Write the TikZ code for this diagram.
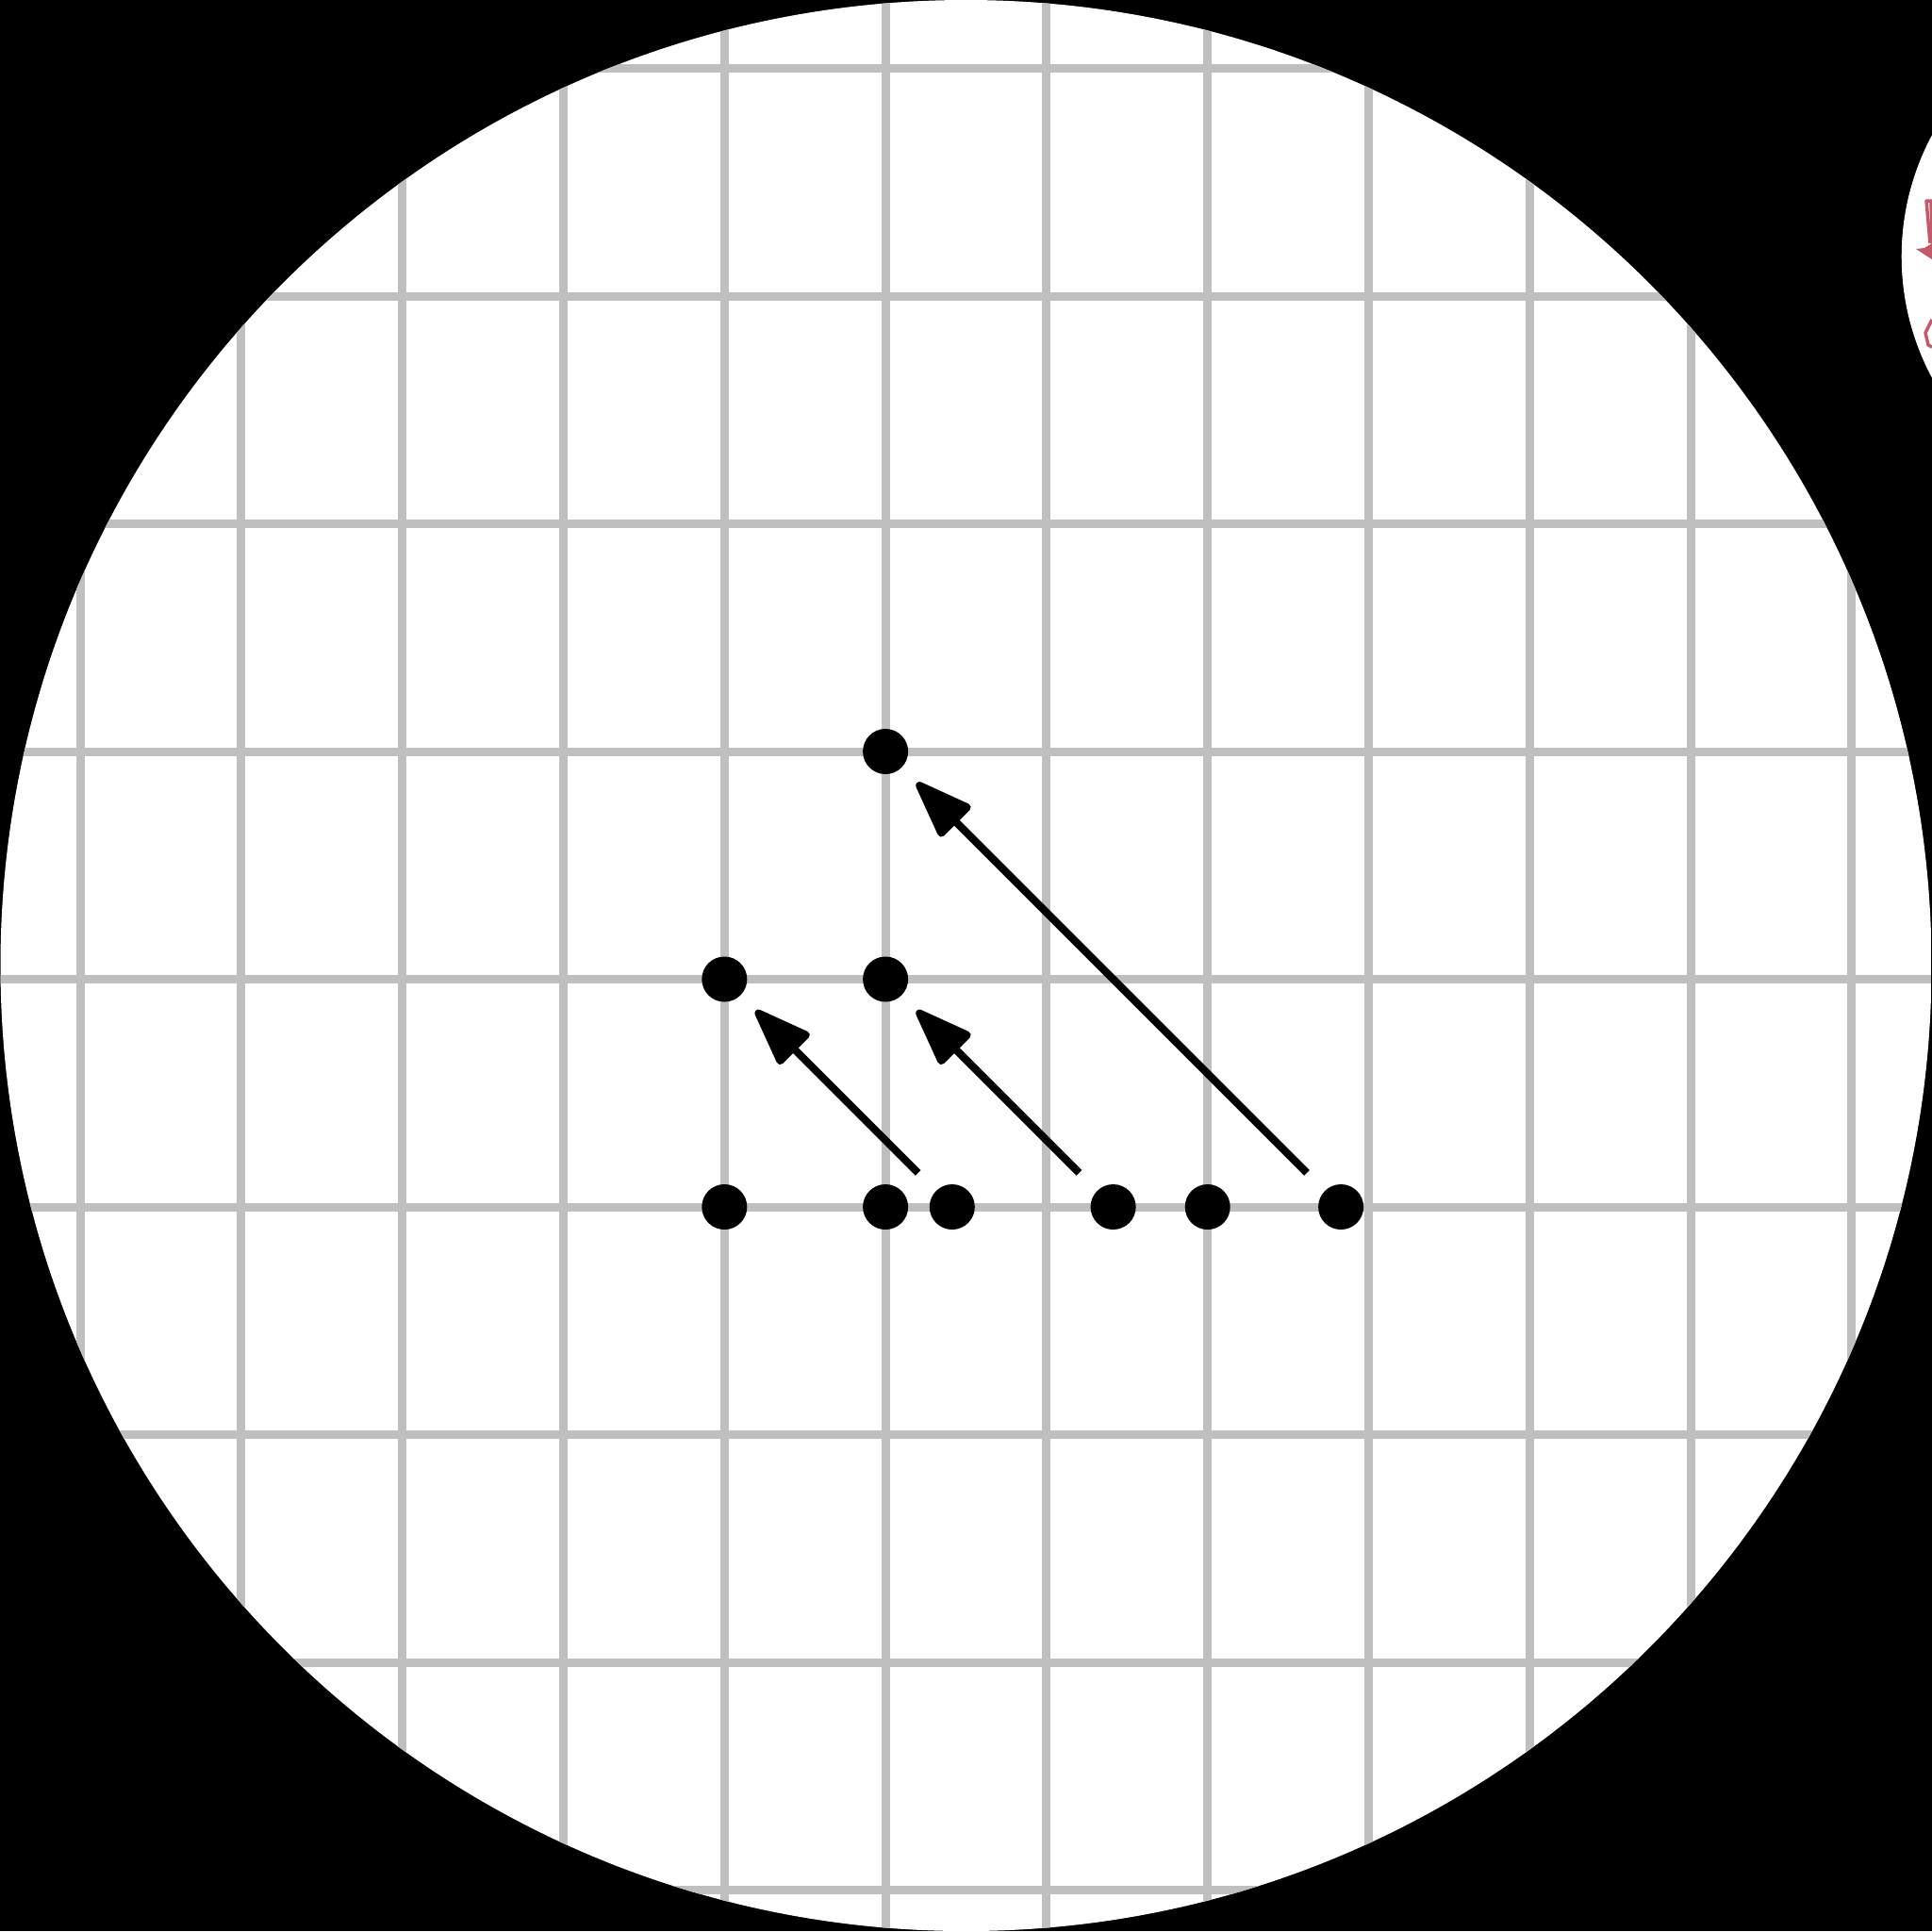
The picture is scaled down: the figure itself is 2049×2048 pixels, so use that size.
\documentclass[tikz,border=0pt]{standalone}
\usepackage{tikz}
\usetikzlibrary{arrows.meta}
\definecolor{gridgray}{HTML}{BFBFBF}
\definecolor{marker}{HTML}{C25A68}

\begin{document}
\begin{tikzpicture}[
    x=0.01cm, y=-0.01cm,
    gridline/.style={gridgray, line width=0.09cm},
    dot/.style={circle, fill=black, inner sep=0pt, minimum size=0.48cm},
    arrow/.style={-{Triangle[round, length=0.68cm, width=0.48cm]}, line width=0.08cm, line join=round, shorten <=0.51cm, shorten >=0.47cm},
    sketch/.style={marker, line width=0.035cm, line join=round}
]
    % 背景
    \fill[black] (0,0) rectangle (2049,2048);
    \useasboundingbox (0,0) rectangle (2049,2048);

    % 右上角的小圆
    \begin{scope}
        \clip (2016.7,0) rectangle (2049,2048);
        \clip (2288.7,272) circle (272);
        \fill[white] (2000,0) rectangle (2049,600);
        \draw[sketch] (2049,213) -- (2043,213) -- (2047,258);
        \draw[sketch] (2048,213) -- (2049,258);
        \fill[marker] (2032,264) -- (2041,263) -- (2049,258) -- (2049,275) -- (2041,270) -- cycle;
        \draw[sketch] (2049,339) -- (2042,353) -- (2045,366) -- (2049,368);
    \end{scope}

    % 大圆和网格
    \begin{scope}
        \clip (1024.5,1024) circle (1024);
        \fill[white] (0,0) rectangle (2049,2048);
        \foreach \gx in {85.1,255.9,426.7,597.5,768.3,939.1,1109.9,1280.7,1451.5,1622.3,1793.1,1963.9}
            \draw[gridline] (\gx,0) -- (\gx,2048);
        \foreach \gy in {72.5,314,555.5,797,1038.5,1280,1521.5,1763,2004.5}
            \draw[gridline] (0,\gy) -- (2049,\gy);
    \end{scope}

    % 点
    \node[dot] (top) at (939.1,797) {};
    \node[dot] (midl) at (768.3,1038.5) {};
    \node[dot] (midr) at (939.1,1038.5) {};
    \node[dot] (botl) at (768.3,1280) {};
    \node[dot] (botm) at (939.1,1280) {};
    \node[dot] (bota) at (1009.8,1280) {};
    \node[dot] (botb) at (1180.6,1280) {};
    \node[dot] (botc) at (1280.7,1280) {};
    \node[dot] (botd) at (1422.1,1280) {};

    % 箭头
    \draw[arrow] (bota.center) -- (midl.center);
    \draw[arrow] (botb.center) -- (midr.center);
    \draw[arrow] (botd.center) -- (top.center);
\end{tikzpicture}
\end{document}
